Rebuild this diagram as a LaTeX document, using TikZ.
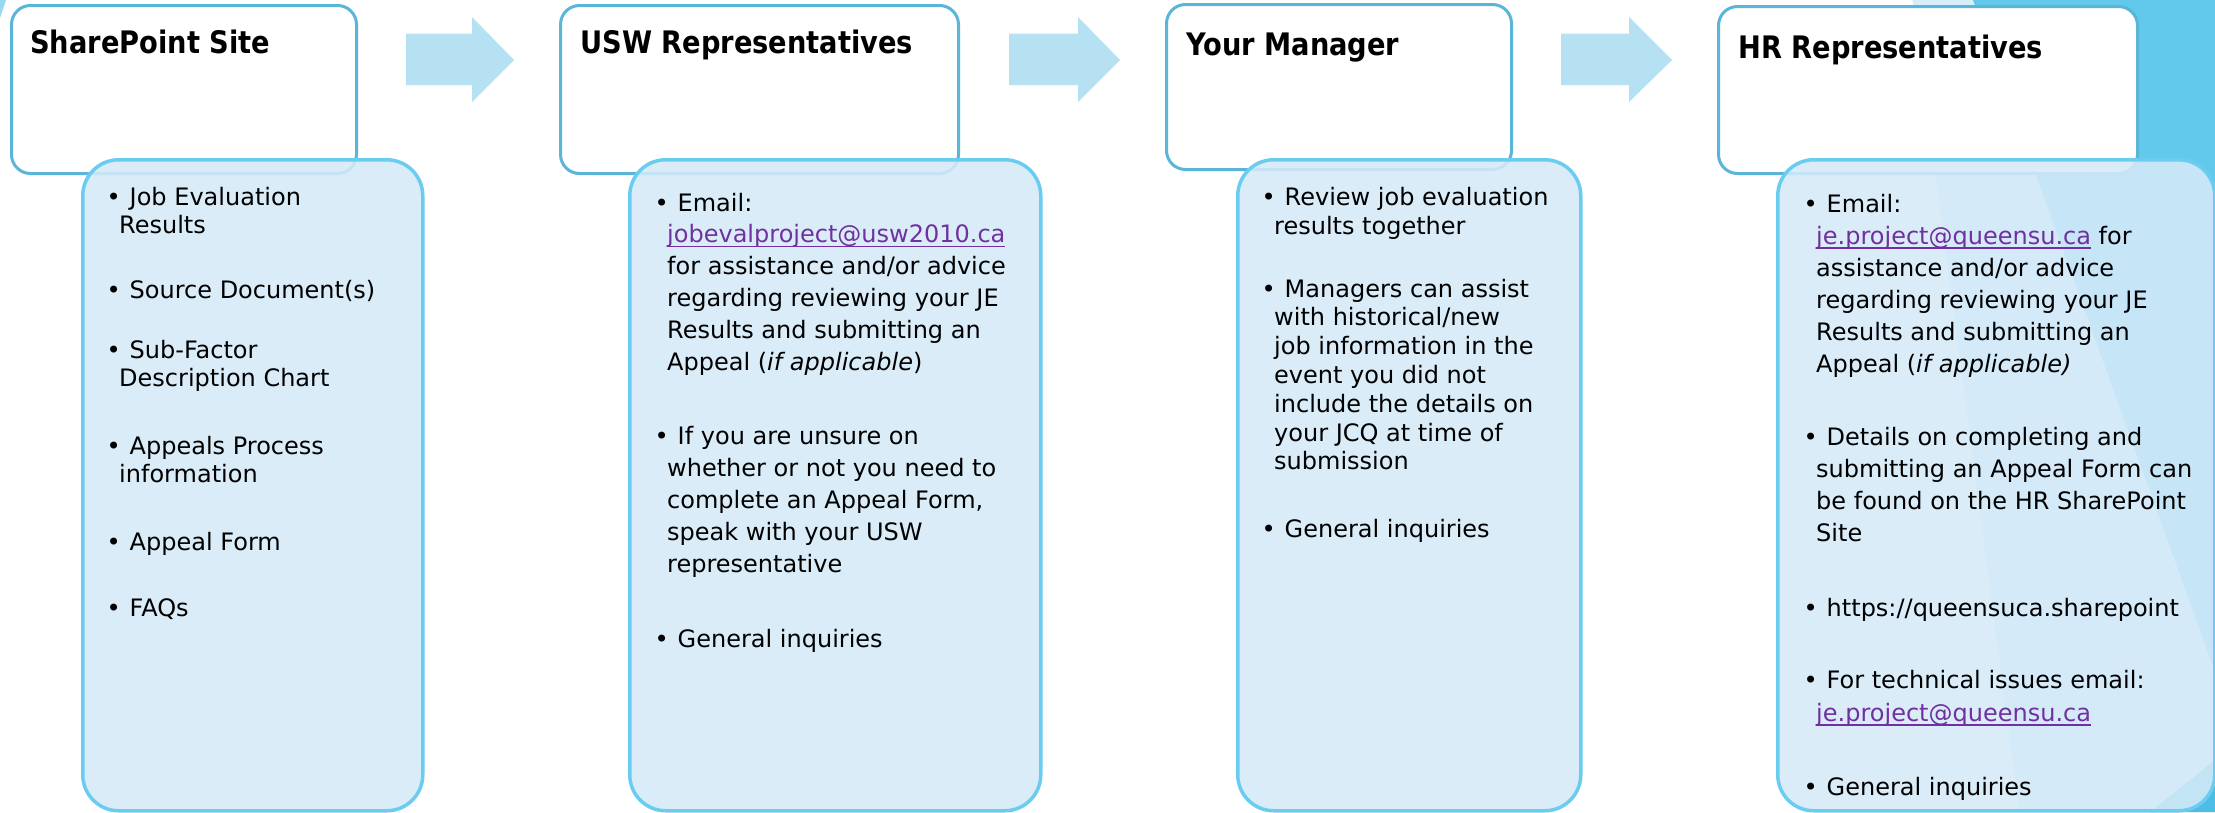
\documentclass[tikz,border=0pt]{standalone}
\usepackage{fontspec}
\setmainfont{DejaVu Sans}
\newfontfamily\headfont{DejaVu Sans}[FakeStretch=0.88]

\definecolor{hdrline}{HTML}{5AB5D9}
\definecolor{bodyline}{HTML}{6ACCF0}
\definecolor{bodyfill}{HTML}{D4EAF8}
\definecolor{arrowfill}{HTML}{B5E1F3}
\definecolor{linkpurple}{HTML}{7030A0}
\definecolor{slideblue}{HTML}{62C9EC}
\definecolor{slidelight}{HTML}{D6EEF9}
\definecolor{slidedeep}{HTML}{4DBDE6}
\definecolor{swoosh}{HTML}{9AD7F0}

% bullet hanging to the left of the text column
\newcommand\bul{\hspace*{-12.5pt}\makebox[23pt][l]{\textbullet}}
% underlined purple e-mail address
\newsavebox\lnkbox
\newcommand\lnk[1]{\leavevmode\sbox\lnkbox{\color{linkpurple}#1}\rlap{\color{linkpurple}\rule[-4.5pt]{\wd\lnkbox}{1.5pt}}\usebox\lnkbox}
% a bullet item: line spacing, then the lines
\newcommand\lines[2]{\parbox[t]{420pt}{\fontsize{24}{#1}\selectfont\raggedright #2}}

\tikzset{
  hdrbox/.style={draw=hdrline, line width=3pt, fill=white, rounded corners=19pt,
    anchor=north west, inner sep=0pt},
  bodybox/.style={draw=bodyline, line width=3.5pt, fill=bodyfill, fill opacity=0.88,
    rounded corners=36pt, anchor=north west, inner sep=0pt},
  ttl/.style={inner sep=0pt, anchor=base west, text=black,
    font=\headfont\bfseries\fontsize{31}{36}\selectfont},
  txt/.style={inner sep=0pt, anchor=base west, text=black},
  blockarrow/.style={fill=arrowfill},
}

\begin{document}
\begin{tikzpicture}[x=1pt,y=-1pt]
\useasboundingbox (0,0) rectangle (2215,812);
\fill[white] (0,0) rectangle (2215,812);

% slide background on the right edge
\fill[slidelight] (1913,0) -- (2215,0) -- (2215,812) -- (2020,812) -- cycle;
\fill[slideblue] (1973,0) -- (2215,0) -- (2215,672) -- cycle;
\fill[slidedeep] (2215,760) -- (2215,812) -- (2150,812) -- cycle;
\draw[white!70!slideblue, line width=0.8pt] (1913,0) -- (2020,812);
\fill[swoosh] (0,0) -- (6,0) -- (0,18) -- cycle;

% header boxes
\node[hdrbox, minimum width=345pt, minimum height=168pt] (h1) at (10,4) {};
\node[hdrbox, minimum width=398pt, minimum height=168pt] (h2) at (559,4) {};
\node[hdrbox, minimum width=345pt, minimum height=165pt] (h3) at (1165,3) {};
\node[hdrbox, minimum width=419pt, minimum height=167pt] (h4) at (1717,5) {};

% detail boxes
\node[bodybox, minimum width=340pt, minimum height=651pt] (b1) at (81,158) {};
\node[bodybox, minimum width=411pt, minimum height=651pt] (b2) at (628,158) {};
\node[bodybox, minimum width=343pt, minimum height=651pt] (b3) at (1236,158) {};
\node[bodybox, minimum width=437pt, minimum height=651pt] (b4) at (1776,158) {};

% block arrows between the steps
\fill[blockarrow] (406,33.5) -- (472,33.5) -- (472,17) -- (514,60) -- (472,102) -- (472,85) -- (406,85) -- cycle;
\fill[blockarrow] (1009,33.5) -- (1078,33.5) -- (1078,17) -- (1120,60) -- (1078,102) -- (1078,85) -- (1009,85) -- cycle;
\fill[blockarrow] (1561,33.5) -- (1629,33.5) -- (1629,17) -- (1672,60) -- (1629,102) -- (1629,85) -- (1561,85) -- cycle;

% titles
\node[ttl] (t1) at (30,53) {SharePoint Site};
\node[ttl] (t2) at (580,53) {USW Representatives};
\node[ttl] (t3) at (1186,55) {Your Manager};
\node[ttl] (t4) at (1738,58) {HR Representatives};

% SharePoint Site
\node[txt] (s1) at (119,205) {\lines{28}{\bul Job Evaluation\\Results}};
\node[txt] (s2) at (119,298) {\lines{28}{\bul Source Document(s)}};
\node[txt] (s3) at (119,358) {\lines{28}{\bul Sub-Factor\\Description Chart}};
\node[txt] (s4) at (119,454) {\lines{28}{\bul Appeals Process\\information}};
\node[txt] (s5) at (119,550) {\lines{28}{\bul Appeal Form}};
\node[txt] (s6) at (119,616) {\lines{28}{\bul FAQs}};

% USW Representatives
\node[txt] (u1) at (667,211) {\lines{31.8}{\bul Email:\\\lnk{jobevalproject@usw2010.ca}\\for assistance and/or advice\\regarding reviewing your JE\\Results and submitting an\\Appeal (\textit{if applicable})}};
\node[txt] (u2) at (667,444) {\lines{32}{\bul If you are unsure on\\whether or not you need to\\complete an Appeal Form,\\speak with your USW\\representative}};
\node[txt] (u3) at (667,647) {\lines{32}{\bul General inquiries}};

% Your Manager
\node[txt] (m1) at (1274,205) {\lines{29}{\bul Review job evaluation\\results together}};
\node[txt] (m2) at (1274,297) {\lines{28.8}{\bul Managers can assist\\with historical/new\\job information in the\\event you did not\\include the details on\\your JCQ at time of\\submission}};
\node[txt] (m3) at (1274,537) {\lines{28.8}{\bul General inquiries}};

% HR Representatives
\node[txt] (r1) at (1816,212) {\lines{32}{\bul Email:\\\lnk{je.project@queensu.ca} for\\assistance and/or advice\\regarding reviewing your JE\\Results and submitting an\\Appeal (\textit{if applicable)}}};
\node[txt] (r2) at (1816,445) {\lines{32}{\bul Details on completing and\\submitting an Appeal Form can\\be found on the HR SharePoint\\Site}};
\node[txt] (r3) at (1816,616) {\lines{32}{\bul https://queensuca.sharepoint}};
\node[txt] (r4) at (1816,688) {\lines{33}{\bul For technical issues email:\\\lnk{je.project@queensu.ca}}};
\node[txt] (r5) at (1816,795) {\lines{32}{\bul General inquiries}};
\end{tikzpicture}
\end{document}
